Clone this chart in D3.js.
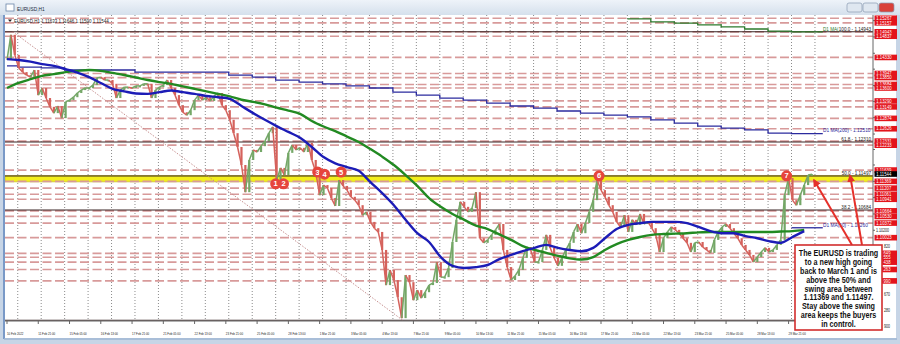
<!DOCTYPE html>
<html>
<head>
<meta charset="utf-8">
<script src="https://cdn.jsdelivr.net/npm/d3@7"></script>
<style>
  html, body { margin: 0; padding: 0; background: #c7d5e6; }
  svg { display: block; font-family: "Liberation Sans", Arial, sans-serif; }
</style>
</head>
<body>
<div id="chart"></div>
<script>
const W = 900, H = 344;

// EURUSD H1 closes, one every 4 bars starting 10 Feb 2022 13:00
const closes = [
  1.1427,1.1487,1.1439,1.1408,1.1398,1.1391,1.1386,1.1403,1.1343,1.1360,
  1.1336,1.1315,1.1300,1.1317,1.1288,1.1327,1.1331,1.1338,1.1348,1.1355,
  1.1360,1.1360,1.1367,1.1384,1.1386,1.1379,1.1379,1.1370,1.1336,1.1355,
  1.1362,1.1362,1.1360,1.1365,1.1365,1.1370,1.1370,1.1336,1.1355,1.1362,
  1.1367,1.1379,1.1360,1.1343,1.1319,1.1302,1.1295,1.1307,1.1331,1.1343,
  1.1331,1.1338,1.1329,1.1341,1.1348,1.1319,1.1307,1.1284,1.1252,1.1219,
  1.1176,1.1111,1.1188,1.1212,1.1207,1.1221,1.1233,1.1252,1.1267,1.1140,
  1.1169,1.1152,1.1205,1.1224,1.1212,1.1217,1.1207,1.1229,1.1188,1.1159,
  1.1104,1.1128,1.1121,1.1097,1.1078,1.1140,1.1126,1.1116,1.1100,1.1092,
  1.1080,1.1056,1.1064,1.1040,1.1025,1.1016,1.0973,1.0889,1.0925,1.0901,
  1.0860,1.0810,1.0913,1.0896,1.0853,1.0877,1.0858,1.0872,1.0889,1.0894,
  1.0944,1.0908,1.0908,1.0930,1.0992,1.1045,1.1088,1.1076,1.1064,1.1073,
  1.1111,1.1001,1.0990,1.0997,1.1009,1.1021,1.1035,1.0973,1.0932,1.0901,
  1.0911,1.0925,1.0954,1.0980,1.0973,1.0944,1.0944,1.0973,1.1009,1.0978,
  1.0954,1.0935,1.0954,1.0973,1.0990,1.1016,1.1035,1.1013,1.1037,1.1064,
  1.1092,1.1140,1.1116,1.1100,1.1080,1.1064,1.1040,1.1028,1.1056,1.1016,
  1.1045,1.1033,1.1059,1.1035,1.1040,1.1025,1.1009,1.0968,1.1001,1.1016,
  1.1028,1.1021,1.1013,1.1001,1.0990,1.0968,1.0990,1.0992,1.0980,1.0973,
  1.0966,1.0997,1.1016,1.1028,1.1035,1.1025,1.1013,1.1001,1.0985,1.0973,
  1.0961,1.0944,1.0956,1.0968,1.0978,1.0968,1.0973,1.0985,1.0997,1.1104,
  1.1145,1.1092,1.1080,1.1104,1.1128,1.1152,1.1154
];
const closeStep = 4;

// H1 moving averages, one value every 12 bars
const maBlue = [
  1.1429,1.1427,1.1423,1.1417,1.1413,1.1405,1.1397,1.1386,1.1372,1.1358,
  1.1352,1.1347,1.1346,1.1350,1.1354,1.1350,1.1346,1.1341,1.1338,1.1334,
  1.1317,1.1300,1.1284,1.1269,1.1255,1.1241,1.1219,1.1195,1.1180,1.1171,
  1.1162,1.1135,1.1109,1.1080,1.1045,1.1013,1.0992,1.0956,1.0935,1.0930,
  1.0932,1.0937,1.0951,1.0961,1.0970,1.0978,1.0985,1.0978,1.0973,1.0970,
  1.0978,1.1001,1.1023,1.1033,1.1037,1.1040,1.1040,1.1040,1.1037,1.1028,
  1.1018,1.1013,1.1013,1.1006,1.1001,1.0994,1.0990,1.1004,1.1018
];
const maGreen = [
  1.1360,1.1372,1.1381,1.1389,1.1393,1.1398,1.1401,1.1403,1.1401,1.1396,
  1.1391,1.1385,1.1379,1.1374,1.1370,1.1364,1.1358,1.1352,1.1346,1.1340,
  1.1332,1.1327,1.1321,1.1313,1.1306,1.1298,1.1281,1.1268,1.1257,1.1244,
  1.1231,1.1214,1.1196,1.1176,1.1152,1.1126,1.1097,1.1076,1.1059,1.1045,
  1.1031,1.1023,1.1010,1.0997,1.0982,1.0973,1.0966,1.0959,1.0953,1.0950,
  1.0956,1.0973,1.0987,1.0997,1.1004,1.1009,1.1011,1.1012,1.1013,1.1015,
  1.1016,1.1016,1.1016,1.1016,1.1016,1.1016,1.1017,1.1018,1.1021
];
const maStep = 12;

// daily MAs, one value per trading day (day 0 = 10 Feb)
const d1Ma200 = [
  1.1413,1.1410,1.1408,1.1403,1.1403,1.1403,1.1398,1.1398,1.1398,1.1398,
  1.1391,1.1386,1.1379,1.1374,1.1370,1.1365,1.1360,1.1350,1.1343,1.1336,
  1.1331,1.1324,1.1317,1.1312,1.1305,1.1300,1.1295,1.1291,1.1284,1.1276,
  1.1269,1.1264,1.1260,1.1252,1.1251
];
const d1Ma100 = [1.1525,1.1518,1.1515,1.1511,1.1506,1.1501,1.1496,1.1494]; // from day 27
const d1Ma100Start = 27;
const d1Ma50 = [1.1026]; // day 34
const d1Ma50Start = 34;

// horizontal levels (red dashed lines with price tags)
const levels = [
  1.15267,1.15157,1.14943,1.14837,1.14330,1.13947,1.13850,1.13684,1.13600,1.13290,
  1.13149,1.12874,1.12626,1.12331,1.12233,1.11639,1.11369,1.11207,1.11061,1.10941,
  1.10664,1.10530,1.10372,1.10023,1.09649,1.09555,1.09438,1.09263,1.08990
];
const fibs = [
  { pct: "100.0", price: 1.14943 },
  { pct: "61.8", price: 1.12310 },
  { pct: "50.0", price: 1.11497 },
  { pct: "38.2", price: 1.10684 },
  { pct: "0.0", price: 1.08051 }
];
const fibAnchor = [{ bar: 6, price: 1.14943 }, { bar: 405, price: 1.08051 }];
const swingArea = [1.11369, 1.11497];
const lastPrice = 1.11544;

const priceTicks = [
  1.15210,1.14820,1.14430,1.14050,1.13660,1.13280,1.12890,1.12500,1.12130,1.11760,
  1.11370,1.10980,1.10590,1.10200,1.09820,1.09430,1.09050,1.08670,1.08280,1.07900
];
const timeLabels = [
  "10 Feb 2022","11 Feb 21:00","15 Feb 05:00","16 Feb 13:00","17 Feb 21:00","21 Feb 05:00",
  "22 Feb 13:00","23 Feb 21:00","25 Feb 05:00","28 Feb 13:00","1 Mar 21:00","3 Mar 05:00",
  "4 Mar 13:00","7 Mar 21:00","9 Mar 05:00","10 Mar 13:00","11 Mar 21:00","15 Mar 05:00",
  "16 Mar 13:00","17 Mar 21:00","21 Mar 05:00","22 Mar 13:00","23 Mar 21:00","25 Mar 05:00",
  "28 Mar 13:00","29 Mar 21:00"
];
const timeLabelStep = 32;

const markers = [
  { n: "1", bar: 275, price: 1.1131 },
  { n: "2", bar: 283, price: 1.1131 },
  { n: "3", bar: 318, price: 1.1159 },
  { n: "4", bar: 325, price: 1.1154 },
  { n: "5", bar: 342, price: 1.1159 },
  { n: "6", bar: 606, price: 1.1150 },
  { n: "7", bar: 798, price: 1.1150 }
];

const note = [
  "The EURUSD is trading",
  "to a new high going",
  "back to March 1 and is",
  "above the 50% and",
  "swing area between",
  "1.11369 and 1.11497.",
  "Stay above the swing",
  "area keeps the buyers",
  "in control."
];

// ---------- layout ----------
const PL = 5, PR = 873, PT = 15, PB = 321;
const x = d3.scaleLinear().domain([0, 886]).range([7, 872.6]);
const y = d3.scaleLinear().domain([1.08051, 1.14943]).range([320.2, 31.8]);
const dayStart = d => d === 0 ? 0 : 11 + 24 * (d - 1);

const svg = d3.select('#chart').append('svg').attr('width', W).attr('height', H);
const defs = svg.append('defs');

function stext(parent, tx, ty, str, size, sx) {
  return parent.append('text')
    .attr('transform', `translate(${tx},${ty}) scale(${sx},1)`)
    .attr('font-size', size)
    .text(str);
}

// window frame + title bar
svg.append('rect').attr('width', W).attr('height', H).attr('fill', '#c7d5e6');
const tb = defs.append('linearGradient').attr('id', 'tb').attr('x1', 0).attr('y1', 0).attr('x2', 0).attr('y2', 1);
tb.append('stop').attr('offset', '0%').attr('stop-color', '#eef3f9');
tb.append('stop').attr('offset', '100%').attr('stop-color', '#d5e0ec');
svg.append('rect').attr('x', 0).attr('y', 0).attr('width', W).attr('height', 15).attr('fill', 'url(#tb)');
svg.append('rect').attr('x', 6).attr('y', 4).attr('width', 8).attr('height', 7)
  .attr('fill', '#fff').attr('stroke', '#6b86a8').attr('stroke-width', 0.8);
stext(svg, 17, 10.5, 'EURUSD,H1', 6, 0.8).attr('fill', '#1b2a3a');

const btns = [{ x: 847, c: '#dfe7f0' }, { x: 863, c: '#dfe7f0' }, { x: 879, c: '#d9413a' }];
btns.forEach(b => {
  svg.append('rect').attr('x', b.x).attr('y', 3).attr('width', 15).attr('height', 9).attr('rx', 2)
    .attr('fill', b.c).attr('stroke', '#8a9bb2').attr('stroke-width', 0.7);
});

// chart window body
svg.append('rect').attr('x', PL).attr('y', PT).attr('width', 891).attr('height', 323).attr('fill', '#fff');
svg.append('line').attr('x1', 4).attr('x2', 4).attr('y1', PT).attr('y2', 339)
  .attr('stroke', '#5f84bd').attr('stroke-width', 1.5);
svg.append('line').attr('x1', 4).attr('x2', 897).attr('y1', 339).attr('y2', 339)
  .attr('stroke', '#9fb6d3').attr('stroke-width', 1.5);

defs.append('clipPath').attr('id', 'plot').append('rect')
  .attr('x', PL).attr('y', PT).attr('width', PR - PL).attr('height', PB - PT);
const plot = svg.append('g').attr('clip-path', 'url(#plot)');

// day grid
d3.range(1, 36).forEach(d => {
  plot.append('line').attr('x1', x(dayStart(d))).attr('x2', x(dayStart(d)))
    .attr('y1', PT).attr('y2', PB)
    .attr('stroke', '#6d6d6d').attr('stroke-width', 0.8).attr('stroke-dasharray', '1,2');
});

// swing area
plot.append('rect').attr('x', PL).attr('width', PR - PL)
  .attr('y', y(swingArea[1]) - 0.5).attr('height', y(swingArea[0]) - y(swingArea[1]) + 1)
  .attr('fill', '#f3ee1c').attr('stroke', '#c9c23a').attr('stroke-width', 0.8);

// red dashed levels
plot.selectAll('.lvl').data(levels).enter().append('line')
  .attr('x1', PL).attr('x2', PR).attr('y1', d => y(d)).attr('y2', d => y(d))
  .attr('stroke', '#d89a9a').attr('stroke-width', 1.7).attr('stroke-dasharray', '9,3.5');

// fib retracement
plot.selectAll('.fib').data(fibs).enter().append('line')
  .attr('x1', PL).attr('x2', PR).attr('y1', d => y(d.price)).attr('y2', d => y(d.price))
  .attr('stroke', '#3b2626').attr('stroke-width', 1.1);
plot.append('line')
  .attr('x1', x(fibAnchor[0].bar)).attr('y1', y(fibAnchor[0].price))
  .attr('x2', x(fibAnchor[1].bar)).attr('y2', y(fibAnchor[1].price))
  .attr('stroke', '#c08585').attr('stroke-width', 0.9).attr('stroke-dasharray', '1.5,1.5');

// daily MA step lines
function stepData(vals, startDay, endBar) {
  const pts = vals.map((v, i) => [dayStart(startDay + i), v]);
  pts.push([endBar, vals[vals.length - 1]]);
  return pts;
}
const stepLine = d3.line().x(d => x(d[0])).y(d => y(d[1])).curve(d3.curveStepAfter);
plot.append('path').attr('d', stepLine(stepData(d1Ma200, 0, 835)))
  .attr('fill', 'none').attr('stroke', '#2b2b9e').attr('stroke-width', 1.3);
plot.append('path').attr('d', stepLine(stepData(d1Ma100, d1Ma100Start, 835)))
  .attr('fill', 'none').attr('stroke', '#2d7b2d').attr('stroke-width', 1.3);
plot.append('path').attr('d', stepLine(stepData(d1Ma50, d1Ma50Start, 835)))
  .attr('fill', 'none').attr('stroke', '#2b2b9e').attr('stroke-width', 1.3);

// candles (H1 path)
const cg = plot.append('g');
closes.forEach((c, k) => {
  if (k === 0) return;
  const p = closes[k - 1];
  const col = c >= p ? '#74a767' : '#d5625c';
  cg.append('line')
    .attr('x1', x((k - 1) * closeStep)).attr('y1', y(p))
    .attr('x2', x(k * closeStep)).attr('y2', y(c))
    .attr('stroke', col).attr('stroke-width', 1.5);
  cg.append('rect')
    .attr('x', x(k * closeStep) - 1.1).attr('width', 2.2)
    .attr('y', y(Math.max(c, p))).attr('height', Math.max(1.5, Math.abs(y(c) - y(p))))
    .attr('fill', col);
});

// H1 moving averages
const maLine = d3.line().x((d, i) => x(i * maStep)).y(d => y(d)).curve(d3.curveMonotoneX);
plot.append('path').attr('d', maLine(maGreen)).attr('fill', 'none')
  .attr('stroke', '#228a22').attr('stroke-width', 2.4);
plot.append('path').attr('d', maLine(maBlue)).attr('fill', 'none')
  .attr('stroke', '#1c1cb6').attr('stroke-width', 2.4);

// swing markers
const mg = svg.append('g');
markers.forEach(m => {
  mg.append('circle').attr('cx', x(m.bar)).attr('cy', y(m.price)).attr('r', 5.5).attr('fill', '#e6453c');
  mg.append('text').attr('x', x(m.bar)).attr('y', y(m.price) + 2.5)
    .attr('text-anchor', 'middle').attr('font-size', 7.5).attr('font-weight', 'bold')
    .attr('fill', '#fff').text(m.n);
});

// object labels
const lg = svg.append('g').attr('fill', '#222');
fibs.filter(f => f.pct !== '0.0').forEach(f => {
  lg.append('text').attr('x', 871).attr('y', y(f.price) - 1.2).attr('text-anchor', 'end')
    .attr('font-size', 4.6).text(`${f.pct} - ${f.price.toFixed(5)}`);
});
lg.append('text').attr('x', 823).attr('y', y(d1Ma100[d1Ma100.length - 1]) - 1.2)
  .attr('font-size', 4.6).attr('fill', '#2d7b2d').text('D1 MA(');
lg.append('text').attr('x', 823).attr('y', y(d1Ma200[d1Ma200.length - 1]) - 1.2)
  .attr('font-size', 4.8).attr('fill', '#2b2b9e').text(`D1 MA(200) - ${d1Ma200[d1Ma200.length - 1].toFixed(5)}`);
lg.append('text').attr('x', 823).attr('y', y(d1Ma50[0]) - 1.2)
  .attr('font-size', 4.8).attr('fill', '#2b2b9e').text(`D1 MA(50) - ${d1Ma50[0].toFixed(5)}`);

// header
svg.append('path').attr('d', 'M8,19.5 L12,19.5 L10,22 Z').attr('fill', '#222');
stext(svg, 14, 22.6, 'EURUSD,H1  1.11633 1.11646 1.11500 1.11544', 4.5, 1).attr('fill', '#222');

// axes frame
svg.append('line').attr('x1', PR).attr('x2', PR).attr('y1', PT).attr('y2', PB).attr('stroke', '#666').attr('stroke-width', 1);
svg.append('line').attr('x1', PL).attr('x2', PR).attr('y1', PB).attr('y2', PB).attr('stroke', '#666').attr('stroke-width', 1);

// price axis: tick labels that a price tag would cover are not drawn
const tagged = levels.concat([lastPrice]);
const ag = svg.append('g').attr('fill', '#222');
priceTicks.forEach(t => {
  ag.append('line').attr('x1', PR).attr('x2', PR + 2).attr('y1', y(t)).attr('y2', y(t)).attr('stroke', '#666');
  const hidden = tagged.some(l => Math.abs(y(l) - y(t)) < 5.5) || (y(t) > 243 && y(t) < 332);
  if (!hidden) stext(ag, 876, y(t) + 1.6, t.toFixed(5), 4.5, 0.8);
});
const rg = svg.append('g');
levels.forEach(l => {
  rg.append('rect').attr('x', 874.5).attr('y', y(l) - 2.8).attr('width', 22.5).attr('height', 5.6).attr('fill', '#e3141c');
  if (y(l) < 243) stext(rg, 876.3, y(l) + 1.7, l.toFixed(5), 4.7, 0.9).attr('fill', '#fff');
  else stext(rg, 883.5, y(l) + 1.7, l.toFixed(5).slice(-3), 4.7, 0.9).attr('fill', '#fff');
});
rg.append('rect').attr('x', 874.5).attr('y', y(lastPrice) - 2.8).attr('width', 22.5).attr('height', 5.6).attr('fill', '#000');
stext(rg, 876.3, y(lastPrice) + 1.7, lastPrice.toFixed(5), 4.7, 0.9).attr('fill', '#fff');
// tails of the axis labels peeking out beside the note box
priceTicks.filter(t => y(t) > 243 && y(t) < 332 && !tagged.some(l => Math.abs(y(l) - y(t)) < 5.5))
  .forEach(t => stext(ag, 884, y(t) + 1.6, t.toFixed(5).slice(-3), 4.5, 0.8));

// time axis
const tg = svg.append('g').attr('fill', '#222');
timeLabels.forEach((s, i) => {
  const tx = x(i * timeLabelStep);
  tg.append('line').attr('x1', tx).attr('x2', tx).attr('y1', PB).attr('y2', PB + 3).attr('stroke', '#666');
  stext(tg, tx, 335, s, 3.9, 0.75);
});

// annotation box + arrows
defs.append('marker').attr('id', 'ah').attr('viewBox', '0 0 10 10').attr('refX', 8).attr('refY', 5)
  .attr('markerWidth', 4).attr('markerHeight', 4).attr('orient', 'auto')
  .append('path').attr('d', 'M0,0 L10,5 L0,10 Z').attr('fill', '#e5302a');
const arrows = [
  { from: [852, 245], bar: 826, price: 1.1140 },
  { from: [862, 245], bar: 863, price: 1.1151 }
];
arrows.forEach(a => {
  svg.append('line').attr('x1', a.from[0]).attr('y1', a.from[1])
    .attr('x2', x(a.bar)).attr('y2', y(a.price))
    .attr('stroke', '#e5302a').attr('stroke-width', 2).attr('marker-end', 'url(#ah)');
});
svg.append('rect').attr('x', 795).attr('y', 245).attr('width', 87).attr('height', 85)
  .attr('fill', '#fff').attr('stroke', '#d22d2d').attr('stroke-width', 1.6);
const ng = svg.append('g').attr('fill', '#111').attr('font-weight', 'bold').attr('text-anchor', 'middle');
note.forEach((s, i) => stext(ng, 838.5, 256.4 + i * 8.8, s, 9, 0.8));
</script>
</body>
</html>
